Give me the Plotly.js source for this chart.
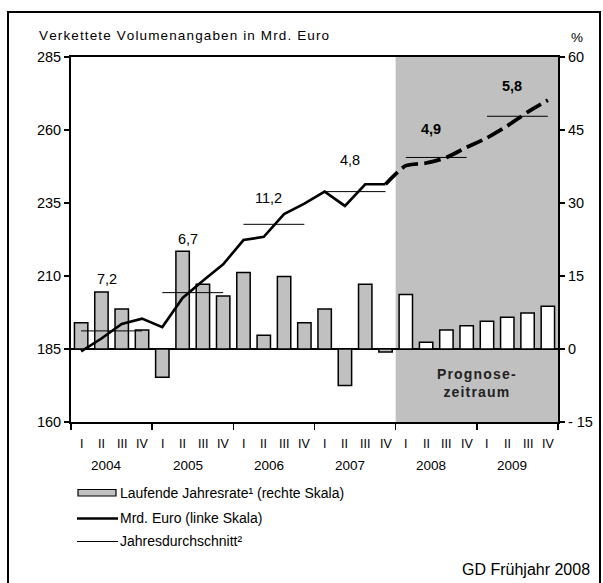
<!DOCTYPE html>
<html>
<head>
<meta charset="utf-8">
<script src="https://cdn.plot.ly/plotly-3.0.1.min.js"></script>
<style>html,body{margin:0;padding:0;background:#fff;}#chart{width:603px;height:583px;}</style>
</head>
<body>
<div id="chart"></div>
<script>
// ---- data ----
const quarterLabels = ['I','II','III','IV','I','II','III','IV','I','II','III','IV','I','II','III','IV','I','II','III','IV','I','II','III','IV'];
const yearLabels = ['2004','2005','2006','2007','2008','2009'];
const rate = [5.4, 11.7, 8.2, 3.9, -5.8, 20.1, 13.3, 10.9, 15.7, 2.8, 14.9, 5.4, 8.2, -7.5, 13.3, -0.6, 11.2, 1.4, 3.9, 4.8, 5.7, 6.5, 7.4, 8.8];
const levelActual = [184.2, 188.6, 193.6, 195.4, 192.5, 202.5, 208.4, 214.0, 222.3, 223.4, 231.2, 234.8, 238.9, 234.0, 241.4, 241.4];
const levelForecast = [241.4, 247.8, 248.7, 250.6, 254.1, 257.3, 261.4, 266.1, 270.2];
const annualAvg = [191.2, 204.3, 227.7, 238.9, 250.6, 264.7];
const growthLabels = ['7,2','6,7','11,2','4,8','4,9','5,8'];
const growthLabelY = [209.1, 222.6, 236.6, 249.8, 260.5, 275.2];
const forecastStart = 16; // first forecast quarter index

// ---- helpers ----
const W = 603, H = 583, ML = 71, MR = 45, MT = 57, MB = 161;
const PW = W - ML - MR, PH = H - MT - MB;
const px = x => (x - ML) / PW;
const py = y => (H - MB - y) / PH;
const FONT = 'Liberation Sans, Arial, sans-serif';
const HS = '\u200A';
const spaced = s => s.split('').join(HS);

const xq = rate.map((_, i) => i + 0.5);

const traces = [];
traces.push({
  type: 'bar', x: xq, y: rate, yaxis: 'y', width: 0.66,
  marker: {color: rate.map((_, i) => i < forecastStart ? '#c0c0c0' : '#ffffff'), line: {color: '#000', width: 1.5}},
  hoverinfo: 'skip', showlegend: false
});
annualAvg.forEach((v, k) => {
  traces.push({
    type: 'scatter', mode: 'lines', x: [4*k + 0.5, 4*k + 3.5], y: [v, v], yaxis: 'y2',
    line: {color: '#000', width: 1}, hoverinfo: 'skip', showlegend: false
  });
});
traces.push({
  type: 'scatter', mode: 'lines', x: levelActual.map((_, i) => i + 0.5), y: levelActual, yaxis: 'y2',
  line: {color: '#000', width: 2.6}, hoverinfo: 'skip', showlegend: false
});
traces.push({
  type: 'scatter', mode: 'lines', x: levelForecast.map((_, i) => i + forecastStart - 1 + 0.5), y: levelForecast, yaxis: 'y2',
  line: {color: '#000', width: 3.8, dash: '17px,6px', shape: 'spline', smoothing: 0.6}, hoverinfo: 'skip', showlegend: false
});

const annotations = [];
annotations.push({xref: 'paper', yref: 'paper', x: px(37), y: py(35), xanchor: 'left', yanchor: 'middle', showarrow: false,
  text: spaced('Verkettete Volumenangaben in Mrd. Euro'), font: {family: FONT, size: 13.5, color: '#000'}});
annotations.push({xref: 'paper', yref: 'paper', x: px(577), y: py(37), xanchor: 'center', yanchor: 'middle', showarrow: false,
  text: '%', font: {family: FONT, size: 13.5, color: '#000'}});
quarterLabels.forEach((q, i) => {
  annotations.push({xref: 'x', yref: 'paper', x: i + 0.5, y: py(444), xanchor: 'center', yanchor: 'middle', showarrow: false,
    text: q, font: {family: FONT, size: 12.5, color: '#000'}});
});
yearLabels.forEach((yl, k) => {
  annotations.push({xref: 'x', yref: 'paper', x: 4*k + 1.75, y: py(465), xanchor: 'center', yanchor: 'middle', showarrow: false,
    text: yl, font: {family: FONT, size: 13.5, color: '#000'}});
});
growthLabels.forEach((t, k) => {
  const bold = 4*k >= forecastStart;
  annotations.push({xref: 'x', yref: 'y2', x: 4*k + 1.75, y: growthLabelY[k], xanchor: 'center', yanchor: 'middle', showarrow: false,
    text: bold ? '<b>' + t + '</b>' : t, font: {family: FONT, size: 14.5, color: '#000'}});
});
annotations.push({xref: 'x', yref: 'paper', x: 20, y: py(383), xanchor: 'center', yanchor: 'middle', showarrow: false,
  text: '<b>' + spaced('Prognose-') + '<br>' + spaced('zeitraum') + '</b>', font: {family: FONT, size: 14, color: '#222'}});
annotations.push({xref: 'paper', yref: 'paper', x: px(118), y: py(493), xanchor: 'left', yanchor: 'middle', showarrow: false,
  text: 'Laufende Jahresrate¹ (rechte Skala)', font: {family: FONT, size: 14, color: '#000'}});
annotations.push({xref: 'paper', yref: 'paper', x: px(118), y: py(518), xanchor: 'left', yanchor: 'middle', showarrow: false,
  text: 'Mrd. Euro (linke Skala)', font: {family: FONT, size: 14, color: '#000'}});
annotations.push({xref: 'paper', yref: 'paper', x: px(118), y: py(541), xanchor: 'left', yanchor: 'middle', showarrow: false,
  text: 'Jahresdurchschnitt²', font: {family: FONT, size: 14, color: '#000'}});
annotations.push({xref: 'paper', yref: 'paper', x: px(592), y: py(569), xanchor: 'right', yanchor: 'middle', showarrow: false,
  text: 'GD Frühjahr 2008', font: {family: FONT, size: 16, color: '#000'}});

const shapes = [
  {type: 'rect', xref: 'x', yref: 'paper', x0: forecastStart, x1: 24, y0: 0, y1: 1, fillcolor: '#c0c0c0', line: {width: 0}, layer: 'below'},
  {type: 'rect', xref: 'paper', yref: 'paper', x0: px(78), x1: px(116), y0: py(496), y1: py(489.5), fillcolor: '#c0c0c0', line: {color: '#000', width: 1.2}},
  {type: 'line', xref: 'paper', yref: 'paper', x0: px(77), x1: px(118), y0: py(518.5), y1: py(518.5), line: {color: '#000', width: 2.6}},
  {type: 'line', xref: 'paper', yref: 'paper', x0: px(77), x1: px(118), y0: py(541.5), y1: py(541.5), line: {color: '#000', width: 1}},
  {type: 'rect', xref: 'paper', yref: 'paper', x0: px(8), x1: px(600), y0: py(600), y1: py(12), line: {color: '#000', width: 2}, fillcolor: 'rgba(0,0,0,0)'}
];

const layout = {
  width: W, height: H,
  margin: {l: ML, r: MR, t: MT, b: MB, pad: 0},
  paper_bgcolor: '#fff', plot_bgcolor: '#fff',
  showlegend: false,
  bargap: 0,
  font: {family: FONT, size: 14, color: '#000'},
  xaxis: {range: [0, 24], tickvals: [0, 4, 8, 12, 16, 20, 24], showticklabels: false, ticks: 'outside', ticklen: 6, tickwidth: 1.5, tickcolor: '#000',
    showline: true, linecolor: '#000', linewidth: 2, mirror: true, showgrid: false, zeroline: false, fixedrange: true},
  yaxis: {range: [-15, 60], tickvals: [-15, 0, 15, 30, 45, 60], ticktext: ['- 15', '0', '15', '30', '45', '60'], side: 'right', ticks: 'outside', ticklen: 5, tickwidth: 1.2, tickcolor: '#000',
    showline: true, linecolor: '#000', linewidth: 2, showgrid: false, zeroline: true, zerolinecolor: '#000', zerolinewidth: 1.5,
    tickfont: {family: FONT, size: 14.5, color: '#000'}, fixedrange: true},
  yaxis2: {range: [160, 285], tickvals: [160, 185, 210, 235, 260, 285], overlaying: 'y', side: 'left', ticks: 'outside', ticklen: 5, tickwidth: 1.2, tickcolor: '#000',
    showline: true, linecolor: '#000', linewidth: 2, showgrid: false, zeroline: false,
    tickfont: {family: FONT, size: 14.5, color: '#000'}, fixedrange: true},
  annotations: annotations,
  shapes: shapes
};

Plotly.newPlot('chart', traces, layout, {staticPlot: true, displayModeBar: false});
</script>
</body>
</html>
